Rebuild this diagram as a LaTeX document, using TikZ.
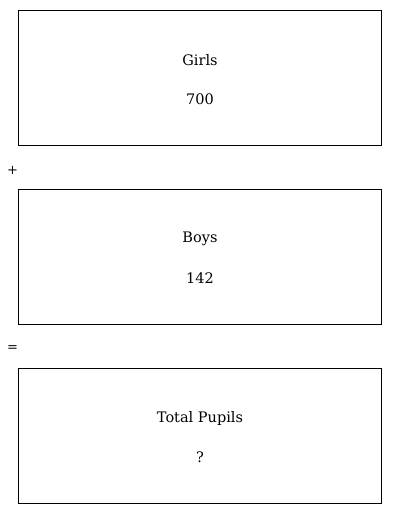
\documentclass[tikz,border=0pt]{standalone}
\usepackage{fontspec}
\setmainfont{DejaVu Serif}
\tikzset{
  box/.style={draw=black, line width=1pt},
  lbl/.style={font=\fontsize{14.5}{17}\selectfont, inner sep=0pt, anchor=center},
  op/.style={font=\fontsize{13}{15}\selectfont, inner sep=0pt, anchor=center}
}
\begin{document}
\begin{tikzpicture}[x=1pt,y=-1pt]
\useasboundingbox (0,0) rectangle (400,514);
\draw[box] (18.5,10.5) rectangle (381.5,145.5);
\draw[box] (18.5,189.5) rectangle (381.5,324.5);
\draw[box] (18.5,368.5) rectangle (381.5,503.5);
\node[lbl] (girls) at (200,60) {Girls};
\node[lbl] (girlsv) at (200,99) {700};
\node[lbl] (boys) at (200,239) {Boys};
\node[lbl] (boysv) at (200,278) {142};
\node[lbl] (total) at (200,418) {Total Pupils};
\node[lbl] (totalv) at (200,457) {?};
\node[op] (plus) at (12.5,170) {+};
\node[op] (eq) at (12.5,349) {=};
\end{tikzpicture}
\end{document}
